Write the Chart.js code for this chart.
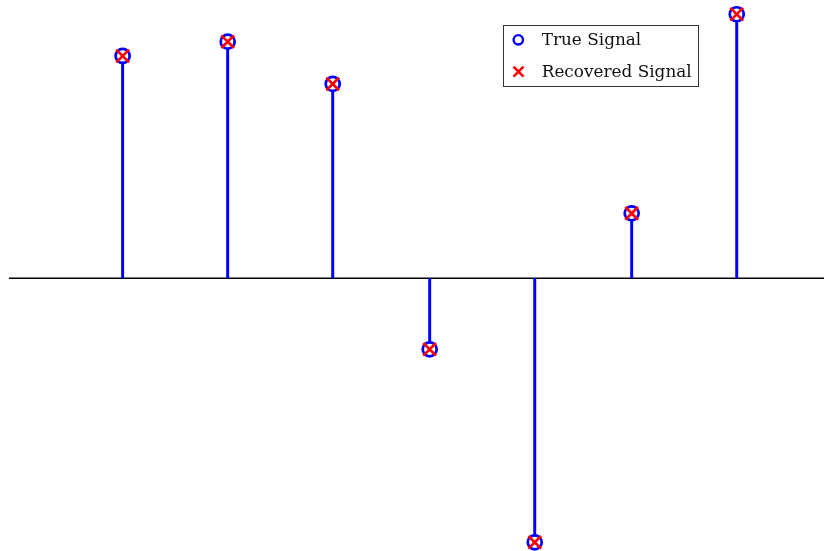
<!DOCTYPE html>
<html>
<head>
<meta charset="utf-8">
<script src="https://cdn.jsdelivr.net/npm/chart.js@4/dist/chart.umd.min.js"></script>
<style>
  html, body { margin: 0; padding: 0; background: #ffffff; }
  #wrap { width: 824px; height: 551px; position: relative; }
</style>
</head>
<body>
<div id="wrap"><canvas id="c" width="824" height="551"></canvas></div>
<script>
// Sparse signal: positions of the non-zero entries and their amplitudes
const indices = [14, 27, 40, 52, 65, 77, 90];
const trueValues = [0.842, 0.896, 0.736, -0.269, -1.0, 0.246, 1.0];
const recoveredValues = [0.842, 0.896, 0.736, -0.269, -1.0, 0.246, 1.0];
const seriesNames = ['True Signal', 'Recovered Signal'];
const xRange = [-0.1, 100.8];
const yRange = [-1.033, 1.054];

const BLUE = '#0000ff';
const RED = '#ff0000';

const stems = indices.map((x, i) => ({ x: x, y: [0, trueValues[i]] }));
const truePts = indices.map((x, i) => ({ x: x, y: trueValues[i] }));
const recPts = indices.map((x, i) => ({ x: x, y: recoveredValues[i] }));

// Legend box drawn in the upper right of the plot
const boxLegend = {
  id: 'boxLegend',
  afterDraw(chart) {
    const ctx = chart.ctx;
    const left = 503.5, top = 25.5, w = 195, h = 61;
    ctx.save();
    ctx.fillStyle = '#ffffff';
    ctx.fillRect(left, top, w, h);
    ctx.strokeStyle = '#333333';
    ctx.lineWidth = 1;
    ctx.strokeRect(left, top, w, h);

    // circle entry
    ctx.beginPath();
    ctx.arc(518.3, 39.8, 4.7, 0, Math.PI * 2);
    ctx.strokeStyle = BLUE;
    ctx.lineWidth = 2.4;
    ctx.stroke();

    // cross entry
    ctx.beginPath();
    const cx = 518.5, cy = 71.7, s = 5;
    ctx.moveTo(cx - s, cy - s); ctx.lineTo(cx + s, cy + s);
    ctx.moveTo(cx - s, cy + s); ctx.lineTo(cx + s, cy - s);
    ctx.strokeStyle = RED;
    ctx.lineWidth = 2.6;
    ctx.stroke();

    // labels, sized so the longer one spans the box
    let size = 16;
    ctx.font = size + 'px "DejaVu Serif"';
    const wNow = ctx.measureText(seriesNames[1]).width;
    size = size * 150 / wNow;
    ctx.font = size + 'px "DejaVu Serif"';
    ctx.fillStyle = '#111111';
    ctx.textBaseline = 'alphabetic';
    ctx.textAlign = 'left';
    ctx.fillText(seriesNames[0], 541.7, 45);
    ctx.fillText(seriesNames[1], 541.7, 77);
    ctx.restore();
  }
};

new Chart(document.getElementById('c'), {
  type: 'bar',
  data: {
    datasets: [
      {
        type: 'line',
        label: 'baseline',
        data: [{ x: xRange[0], y: 0 }, { x: xRange[1], y: 0 }],
        borderColor: '#000000',
        borderWidth: 1.4,
        pointRadius: 0,
        order: 4
      },
      {
        type: 'bar',
        label: 'stems',
        data: stems,
        backgroundColor: BLUE,
        borderWidth: 0,
        barThickness: 2.3,
        grouped: false,
        order: 3
      },
      {
        type: 'scatter',
        label: seriesNames[0],
        data: truePts,
        pointStyle: 'circle',
        pointRadius: 7,
        pointBorderWidth: 2.7,
        pointBorderColor: BLUE,
        pointBackgroundColor: '#ffffff',
        clip: false,
        order: 2
      },
      {
        type: 'scatter',
        label: seriesNames[1],
        data: recPts,
        pointStyle: 'crossRot',
        pointRadius: 9,
        pointBorderWidth: 2.7,
        pointBorderColor: RED,
        pointBackgroundColor: RED,
        clip: false,
        order: 1
      }
    ]
  },
  options: {
    responsive: false,
    animation: false,
    layout: { autoPadding: false, padding: { left: 8.7, right: 0, top: 0, bottom: 0 } },
    plugins: { legend: { display: false }, tooltip: { enabled: false } },
    scales: {
      x: { type: 'linear', min: xRange[0], max: xRange[1], display: false, offset: false },
      y: { type: 'linear', min: yRange[0], max: yRange[1], display: false }
    }
  },
  plugins: [boxLegend]
});
</script>
</body>
</html>
